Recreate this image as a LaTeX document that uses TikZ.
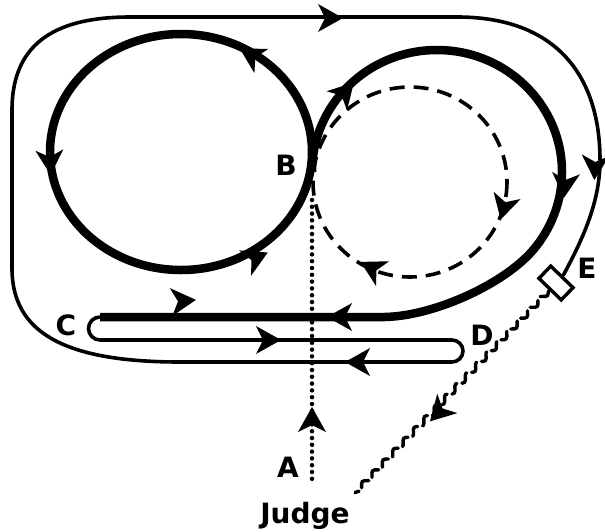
\documentclass[tikz,border=0pt]{standalone}
\usepackage{fontspec}
\setsansfont{DejaVu Sans}
\usetikzlibrary{decorations.pathmorphing}
\begin{document}
\begin{tikzpicture}[x=1pt,y=-1pt,
  thickline/.style={line width=8.5pt},
  thinline/.style={line width=3.6pt},
  dashline/.style={line width=3.6pt, dash pattern=on 15pt off 9pt},
  dotline/.style={line width=4.5pt, line cap=round, dash pattern=on 0pt off 6.8pt},
  wavyline/.style={line width=3.4pt, line cap=round, dash pattern=on 13pt off 5pt, decorate, decoration={snake, amplitude=2.6pt, segment length=15pt}},
  lbl/.style={font=\sffamily\bfseries\fontsize{28}{28}\selectfont, inner sep=0pt, anchor=base},
  gatebox/.style={draw, line width=3.4pt, rectangle, minimum width=31pt, minimum height=17pt, inner sep=0pt},
  ahd/.pic={\fill (13,0) -- (-12,14) -- (-5,0) -- (-12,-14) -- cycle;}
]
\useasboundingbox (0,0) rectangle (605,531);

\coordinate (B) at (312,172);
\coordinate (Cend) at (100,317);
\coordinate (dtop) at (312,200);
\coordinate (dbot) at (312,485);
\coordinate (jend) at (355,493);
\node[gatebox, rotate=-44] (gate) at (556,283) {};

% left circle
\draw[thickline] (181,152) ellipse [x radius=131, y radius=118];
% right loop into the long line
\draw[thickline] (B) arc[start angle=180, end angle=400, x radius=125, y radius=122]
  .. controls (503,285) and (430,318) .. (380,317) -- (Cend);
% hairpins and outer loop
\draw[thinline] (Cend) arc[start angle=270, end angle=90, radius=11.5] -- (452,340)
  arc[start angle=-90, end angle=90, radius=11] -- (180,362)
  .. controls (60,362) and (13,330) .. (12,270) -- (12,110)
  .. controls (12,40) and (60,17) .. (130,17) -- (457,17)
  .. controls (560,17) and (600,80) .. (600,160)
  .. controls (600,200) and (585,235) .. (gate.north);
% dashed circle
\draw[dashline] (410,182) ellipse [x radius=97, y radius=95];
% dotted line
\draw[dotline] (dtop) -- (dbot);
% wavy line
\draw[wavyline] (gate.south) -- (jend);

% arrowheads
\pic[rotate=150] at (251,55) {ahd};
\pic[rotate=-87] at (50,162) {ahd};
\pic[rotate=25] at (256,258) {ahd};
\pic[rotate=47] at (345,92) {ahd};
\pic[rotate=-95] at (565,185) {ahd};
\pic[rotate=180] at (340,317) {ahd};
\pic[rotate=5] at (183,301) {ahd};
\pic[rotate=0] at (268,340) {ahd};
\pic[rotate=180] at (358,362) {ahd};
\pic[rotate=0] at (330,18) {ahd};
\pic[rotate=-93] at (595,167) {ahd};
\pic[rotate=226] at (439,412) {ahd};
\pic[rotate=90] at (312,420) {ahd};
\pic[rotate=-105] at (504,207) {ahd};
\pic[rotate=152] at (372,268) {ahd};

% labels
\node[lbl] (lB) at (286,175) {B};
\node[lbl] (lC) at (66,335) {C};
\node[lbl] (lD) at (482,345) {D};
\node[lbl] (lE) at (587,278) {E};
\node[lbl] (lA) at (288,477) {A};
\node[lbl, font=\sffamily\bfseries\fontsize{28}{28}\selectfont] (judge) at (305,523) {Judge};
\end{tikzpicture}
\end{document}
